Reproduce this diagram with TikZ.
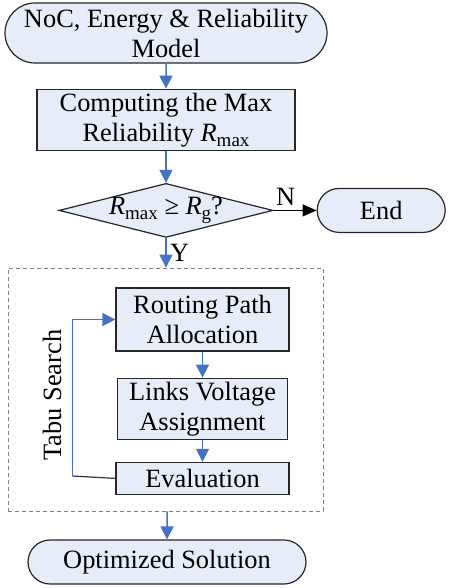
\documentclass[tikz,border=0pt]{standalone}
\usepackage{fontspec}
\setmainfont{Liberation Serif}
\usepackage{tikz}
\usetikzlibrary{positioning,shapes.geometric,shapes.misc,arrows.meta}
\definecolor{boxfill}{RGB}{230,237,248}
\definecolor{flowblue}{RGB}{68,114,196}
\newcommand{\Rsub}[1]{\textit{R}\raisebox{-0.2em}{\fontsize{19}{19}\selectfont #1}}

\begin{document}
\begin{tikzpicture}[x=1pt,y=1pt,font=\fontsize{26.4}{30}\selectfont]
		\tikzset{Term/.style = {rounded rectangle, draw=black!85, fill=boxfill, line width=1.2pt, align=center, inner sep=0pt},
			Proc/.style = {rectangle, draw=black!85, fill=boxfill, line width=1.2pt, align=center, inner sep=0pt},
			Flow/.style = {draw=flowblue, line width=1.5pt, -{Triangle[width=13pt,length=13pt]}}}
		\useasboundingbox (0,0) rectangle (448,-588);
		\node[Term, minimum width=322pt, minimum height=60pt] (Model) at (166,-33) {NoC, Energy \& Reliability\\ Model};
		\node[Proc, minimum width=258pt, minimum height=61pt] (Comp) [below = 25pt of Model] {Computing the Max\\ Reliability \Rsub{max}};
		\node[diamond, aspect=4, draw=black!85, fill=boxfill, line width=1.2pt, inner sep=-3pt, minimum width=214pt, minimum height=54pt] (Check) [below = 32pt of Comp] {\Rsub{max} ≥ \Rsub{g}?};
		\node[Term, minimum width=128pt, minimum height=44pt] (End) [right = 43pt of Check] {End};
		\node[draw=gray, dash pattern=on 4pt off 3pt, line width=0.8pt, minimum width=315pt, minimum height=243pt, inner sep=0pt] (Box) at (165.5,-389.5) {};
		\node[Proc, minimum width=173pt, minimum height=63pt] (Route) at (202.5,-319.5) {Routing Path\\ Allocation};
		\node[Proc, minimum width=170pt, minimum height=61pt] (Links) [below = 26pt of Route] {Links Voltage\\ Assignment};
		\node[Proc, minimum width=173pt, minimum height=32pt] (Eval) [below = 22pt of Links] {Evaluation};
		\node[rotate=90] (Tabu) at (52,-395) {Tabu Search};
		\node[Term, minimum width=278pt, minimum height=44pt] (Opt) at (167,-562) {Optimized Solution};
		\coordinate (Turn) at (72.5,-476);
		% main flow
		\draw[Flow] (Model) -- (Comp);
		\draw[Flow] (Comp) -- (Check);
		\draw[line width=1.2pt, -{Triangle[width=12pt,length=14pt]}] (Check.east) -- (End.west) node[pos=0.28, above=1pt] {N};
		\draw[Flow] (Check.south) -- (Check.south |- Box.north) node[midway, right] {Y};
		\draw[Flow] (Route) -- (Links);
		\draw[Flow] (Links) -- (Eval);
		% loop back
		\draw[line width=1.2pt, black!80] (Eval.west) -- (Turn);
		\draw[Flow] (Turn) |- (Route.west);
		\draw[Flow] (Box.south -| Opt) -- (Opt);
	\end{tikzpicture}
\end{document}
